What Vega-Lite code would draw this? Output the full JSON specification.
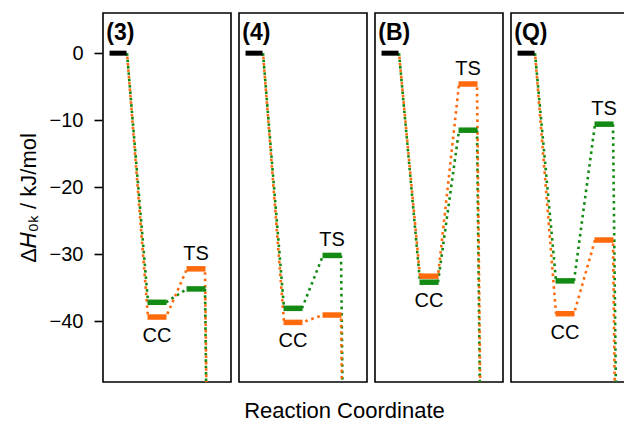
{
  "$schema": "https://vega.github.io/schema/vega-lite/v6.json",
  "padding": {"left": 17, "top": 12, "right": 0, "bottom": 4},
  "background": "white",
  "config": {
    "font": "Liberation Sans",
    "view": {"stroke": "black", "strokeWidth": 1.6},
    "axis": {"labelFont": "Liberation Sans", "titleFont": "Liberation Sans"}
  },
  "title": {"text": "Reaction Coordinate", "orient": "bottom", "fontSize": 22, "fontWeight": "normal", "font": "Liberation Sans", "color": "black", "anchor": "middle", "offset": 18, "dx": 16},
  "data": {"values": [
    {"p": "(3)", "s": "green", "step": 0, "e": 0},
    {"p": "(3)", "s": "green", "step": 1, "e": -37.2},
    {"p": "(3)", "s": "green", "step": 2, "e": -35.2},
    {"p": "(3)", "s": "green", "step": 3, "e": -300},
    {"p": "(3)", "s": "orange", "step": 0, "e": 0},
    {"p": "(3)", "s": "orange", "step": 1, "e": -39.4},
    {"p": "(3)", "s": "orange", "step": 2, "e": -32.2},
    {"p": "(3)", "s": "orange", "step": 3, "e": -300},
    {"p": "(4)", "s": "green", "step": 0, "e": 0},
    {"p": "(4)", "s": "green", "step": 1, "e": -38.1},
    {"p": "(4)", "s": "green", "step": 2, "e": -30.2},
    {"p": "(4)", "s": "green", "step": 3, "e": -300},
    {"p": "(4)", "s": "orange", "step": 0, "e": 0},
    {"p": "(4)", "s": "orange", "step": 1, "e": -40.2},
    {"p": "(4)", "s": "orange", "step": 2, "e": -39.1},
    {"p": "(4)", "s": "orange", "step": 3, "e": -300},
    {"p": "(B)", "s": "green", "step": 0, "e": 0},
    {"p": "(B)", "s": "green", "step": 1, "e": -34.2},
    {"p": "(B)", "s": "green", "step": 2, "e": -11.5},
    {"p": "(B)", "s": "green", "step": 3, "e": -300},
    {"p": "(B)", "s": "orange", "step": 0, "e": 0},
    {"p": "(B)", "s": "orange", "step": 1, "e": -33.3},
    {"p": "(B)", "s": "orange", "step": 2, "e": -4.6},
    {"p": "(B)", "s": "orange", "step": 3, "e": -300},
    {"p": "(Q)", "s": "green", "step": 0, "e": 0},
    {"p": "(Q)", "s": "green", "step": 1, "e": -34.0},
    {"p": "(Q)", "s": "green", "step": 2, "e": -10.6},
    {"p": "(Q)", "s": "green", "step": 3, "e": -300},
    {"p": "(Q)", "s": "orange", "step": 0, "e": 0},
    {"p": "(Q)", "s": "orange", "step": 1, "e": -38.9},
    {"p": "(Q)", "s": "orange", "step": 2, "e": -27.9},
    {"p": "(Q)", "s": "orange", "step": 3, "e": -300}
  ]},
  "facet": {
    "column": {"field": "p", "type": "nominal", "sort": ["(3)", "(4)", "(B)", "(Q)"], "title": null, "header": {"labels": false, "title": null}}
  },
  "spacing": 6,
  "resolve": {"scale": {"x": "shared", "y": "shared"}},
  "spec": {
    "width": 128,
    "height": 369,
    "encoding": {
      "x": {"field": "step", "type": "quantitative", "scale": {"domain": [-0.385, 2.897], "nice": false, "zero": false}, "axis": null},
      "y": {"field": "e", "type": "quantitative", "scale": {"domain": [-49.1, 6], "nice": false, "zero": false},
        "axis": {"values": [-40, -30, -20, -10, 0], "grid": false, "domain": false, "tickSize": 8, "tickWidth": 1.6, "tickColor": "black", "labelFontSize": 20, "labelColor": "black", "labelPadding": 11, "title": "Δ𝐻₀ₖ / kJ/mol", "titleFontSize": 22, "titleFontWeight": "normal", "titleColor": "black", "titlePadding": 9}}
    },
    "layer": [
      {
        "transform": [
          {"window": [{"op": "lead", "field": "step", "as": "step2"}, {"op": "lead", "field": "e", "as": "e2"}], "groupby": ["p", "s"], "sort": [{"field": "step"}]},
          {"filter": "datum.step2 != null && datum.s == 'green'"}
        ],
        "mark": {"type": "rule", "clip": true, "strokeWidth": 2.6, "strokeDash": [2.6, 3.8], "color": "#138a13", "xOffset": 9, "x2Offset": -9},
        "encoding": {"x2": {"field": "step2"}, "y2": {"field": "e2"}}
      },
      {
        "transform": [
          {"window": [{"op": "lead", "field": "step", "as": "step2"}, {"op": "lead", "field": "e", "as": "e2"}], "groupby": ["p", "s"], "sort": [{"field": "step"}]},
          {"filter": "datum.step2 != null && datum.s == 'orange'"}
        ],
        "mark": {"type": "rule", "clip": true, "strokeWidth": 2.6, "strokeDash": [2.6, 3.8], "strokeDashOffset": 3, "color": "#ff6a0d", "xOffset": 9, "x2Offset": -9},
        "encoding": {"x2": {"field": "step2"}, "y2": {"field": "e2"}}
      },
      {
        "transform": [{"filter": "datum.step > 0 && datum.s == 'green'"}],
        "mark": {"type": "rule", "clip": true, "strokeWidth": 5.5, "color": "#138a13", "xOffset": -9.5, "x2Offset": 9.5},
        "encoding": {"x2": {"field": "step"}}
      },
      {
        "transform": [{"filter": "datum.step > 0 && datum.s == 'orange'"}],
        "mark": {"type": "rule", "clip": true, "strokeWidth": 5.5, "color": "#ff6a0d", "xOffset": -9.5, "x2Offset": 9.5},
        "encoding": {"x2": {"field": "step"}}
      },
      {
        "transform": [{"filter": "datum.step == 0 && datum.s == 'orange'"}],
        "mark": {"type": "rule", "clip": true, "strokeWidth": 5, "color": "black", "xOffset": -8.5, "x2Offset": 8.5},
        "encoding": {"x2": {"field": "step"}}
      },
      {
        "transform": [{"filter": "datum.step == 1"}, {"aggregate": [{"op": "min", "field": "e", "as": "e"}], "groupby": ["p", "step"]}],
        "mark": {"type": "text", "text": "CC", "fontSize": 20, "color": "black", "baseline": "middle", "align": "center", "dy": 19}
      },
      {
        "transform": [{"filter": "datum.step == 2"}, {"aggregate": [{"op": "max", "field": "e", "as": "e"}], "groupby": ["p", "step"]}],
        "mark": {"type": "text", "text": "TS", "fontSize": 20, "color": "black", "baseline": "middle", "align": "center", "dy": -15}
      },
      {
        "transform": [{"filter": "datum.step == 0 && datum.s == 'orange'"}],
        "mark": {"type": "text", "fontSize": 23, "fontWeight": "bold", "color": "black", "baseline": "middle", "align": "left"},
        "encoding": {"x": {"datum": -0.3}, "y": {"datum": 3.0}, "text": {"field": "p"}}
      }
    ]
  }
}
